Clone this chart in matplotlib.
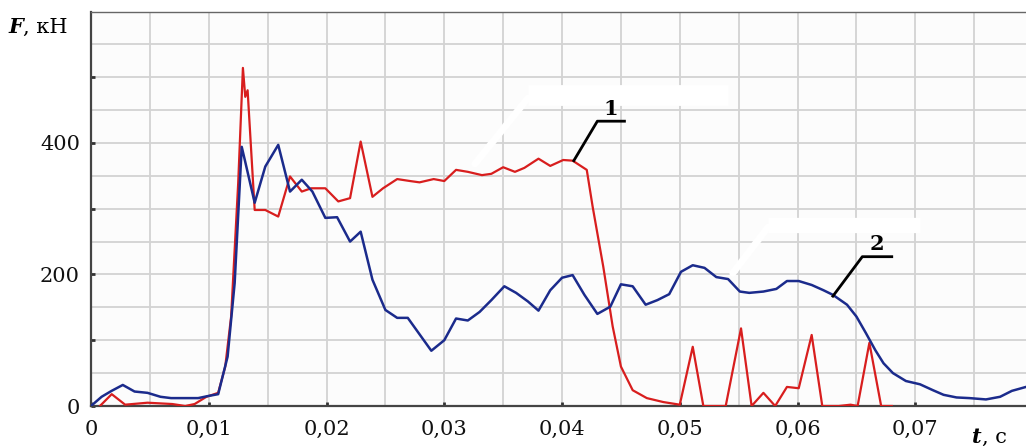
import matplotlib
matplotlib.use("Agg")
import matplotlib.pyplot as plt
from matplotlib.ticker import MultipleLocator, FuncFormatter

# curve 1 (red)
t1 = [0.00076, 0.00176, 0.0029, 0.0048, 0.0069, 0.0080, 0.0088, 0.0098, 0.0108,
      0.0114, 0.0119, 0.0125, 0.0129, 0.0131, 0.0133, 0.0139, 0.0148, 0.0159,
      0.0169, 0.0179, 0.0187, 0.0199, 0.0210, 0.0220, 0.0229, 0.0239, 0.0248,
      0.0260, 0.0271, 0.0279, 0.0291, 0.0300, 0.0310, 0.0320, 0.0332, 0.0340,
      0.0350, 0.0360, 0.0368, 0.0380, 0.0390, 0.0401, 0.0409, 0.0421, 0.0426,
      0.0435, 0.0443, 0.0450, 0.0460, 0.0472, 0.0486, 0.0500, 0.0511, 0.0520,
      0.0539, 0.0552, 0.0561, 0.0571, 0.0581, 0.0591, 0.0601, 0.0612, 0.0621,
      0.0635, 0.0645, 0.0651, 0.0661, 0.0671, 0.0680]
F1 = [0, 18, 2, 5, 3, 0, 3, 14, 20,
      60, 136, 339, 514, 470, 480, 298, 298, 288,
      349, 326, 331, 331, 311, 316, 402, 318, 331,
      345, 342, 340, 345, 342, 359, 356, 351, 353,
      363, 356, 362, 376, 365, 374, 373, 359, 303,
      212, 121, 60, 24, 12, 6, 2, 90, 0,
      0, 118, 0, 20, 0, 29, 27, 108, 0,
      0, 2, 0, 96, 0, 0]

# curve 2 (blue)
t2 = [0.0, 0.0009, 0.00175, 0.0027, 0.0037, 0.0048, 0.0059, 0.0068, 0.0080,
      0.0091, 0.0099, 0.0108, 0.0116, 0.0122, 0.0128, 0.0131, 0.0139, 0.0148,
      0.0159, 0.0169, 0.0179, 0.0188, 0.0199, 0.0209, 0.0220, 0.0229, 0.0239,
      0.0250, 0.0260, 0.0269, 0.0289, 0.0300, 0.0310, 0.0320, 0.0330, 0.0340,
      0.0351, 0.0361, 0.0371, 0.0380, 0.0390, 0.0400, 0.0409, 0.0419, 0.0430,
      0.0441, 0.0450, 0.0460, 0.0471, 0.0481, 0.0491, 0.0501, 0.0511, 0.0521,
      0.0531, 0.0541, 0.0551, 0.0559, 0.0571, 0.0582, 0.0591, 0.0601, 0.0612,
      0.0622, 0.0630, 0.0642, 0.0650, 0.0658, 0.0666, 0.0673, 0.0681, 0.0692,
      0.0704, 0.0715, 0.0724, 0.0735, 0.0746, 0.0760, 0.0772, 0.0782, 0.0794]
F2 = [0, 14, 23, 32, 22, 20, 14, 12, 12,
      12, 15, 18, 75, 187, 394, 371, 309, 364,
      397, 326, 344, 326, 286, 287, 250, 265, 192,
      146, 134, 134, 84, 100, 133, 130, 143, 161,
      182, 172, 159, 145, 176, 195, 199, 169, 140,
      151, 185, 182, 154, 161, 170, 204, 214, 210,
      196, 193, 174, 172, 174, 178, 190, 190, 184,
      176, 169, 154, 136, 111, 85, 65, 50, 38,
      33, 24, 17, 13, 12, 10, 14, 23, 29]

y_labels = {0: "0", 200: "200", 400: "400"}

red = "#d81e1e"
blue = "#1b2b8c"
serif = "DejaVu Serif"

fig = plt.figure(figsize=(10.26, 4.46), dpi=100)
ax = fig.add_axes([91 / 1026, 40 / 446, 935 / 1026, 394 / 446])
ax.set_facecolor("#fcfcfc")

ax.set_xlim(0, 0.0794)
ax.set_ylim(0, 599)

ax.xaxis.set_major_locator(MultipleLocator(0.01))
ax.xaxis.set_minor_locator(MultipleLocator(0.005))
ax.yaxis.set_major_locator(MultipleLocator(100))
ax.yaxis.set_minor_locator(MultipleLocator(50))
ax.xaxis.set_major_formatter(FuncFormatter(lambda v, p: ("%g" % round(v, 3)).replace(".", ",")))
ax.yaxis.set_major_formatter(FuncFormatter(lambda v, p: y_labels.get(int(round(v)), "")))

ax.grid(True, which="both", color="#d3d3d3", linewidth=1.3)
ax.set_axisbelow(True)

ax.tick_params(which="major", direction="in", length=3, width=2, color="#333333",
               labelsize=15, labelcolor="#111111")
ax.tick_params(which="minor", length=0)
ax.tick_params(axis="y", pad=8)
ax.tick_params(axis="x", pad=10)
for lab in ax.get_xticklabels() + ax.get_yticklabels():
    lab.set_family(serif)

for s in ["left", "bottom"]:
    ax.spines[s].set_color("#444444")
    ax.spines[s].set_linewidth(1.6)
ax.spines["top"].set_color("#666666")
ax.spines["top"].set_linewidth(1.0)
ax.spines["right"].set_visible(False)

# erased leftovers (white strokes) seen on the original scan
ax.plot([0.0326, 0.0371], [368, 468], color="white", lw=5, solid_capstyle="round", zorder=1.5)
ax.plot([0.0371, 0.0541], [473, 473], color="white", lw=15, solid_capstyle="butt", zorder=1.5)
ax.plot([0.0545, 0.0575], [202, 272], color="white", lw=5, solid_capstyle="round", zorder=1.5)
ax.plot([0.0575, 0.0704], [275, 275], color="white", lw=11, solid_capstyle="butt", zorder=1.5)

ax.plot(t1, F1, color=red, lw=1.6, zorder=3)
ax.plot(t2, F2, color=blue, lw=1.8, zorder=3)

# leader lines with curve numbers
for (x0, y0), (x1, y1), (x2, y2), num in [
        ((0.0410, 373), (0.0430, 433), (0.0453, 433), "1"),
        ((0.0630, 167), (0.0655, 227), (0.0680, 227), "2")]:
    ax.plot([x0, x1, x2], [y0, y1, y2], color="black", lw=2, zorder=4)
    ax.text((x1 + x2) / 2, y1 + 4, num, ha="center", va="bottom", fontsize=15,
            fontweight="bold", family=serif, zorder=4)

# axis titles
tf = fig.text(8 / 1026, 1 - 33 / 446, "F", fontsize=15, family=serif,
              style="italic", fontweight="bold")
ax.annotate(", кН", xy=(1, 0), xycoords=tf, va="bottom", fontsize=15, family=serif)
tt = fig.text(972 / 1026, 1 - 443 / 446, "t", fontsize=15, family=serif,
              style="italic", fontweight="bold")
ax.annotate(", с", xy=(1, 0), xycoords=tt, va="bottom", fontsize=15, family=serif)

fig.savefig("out.png", dpi=100)
